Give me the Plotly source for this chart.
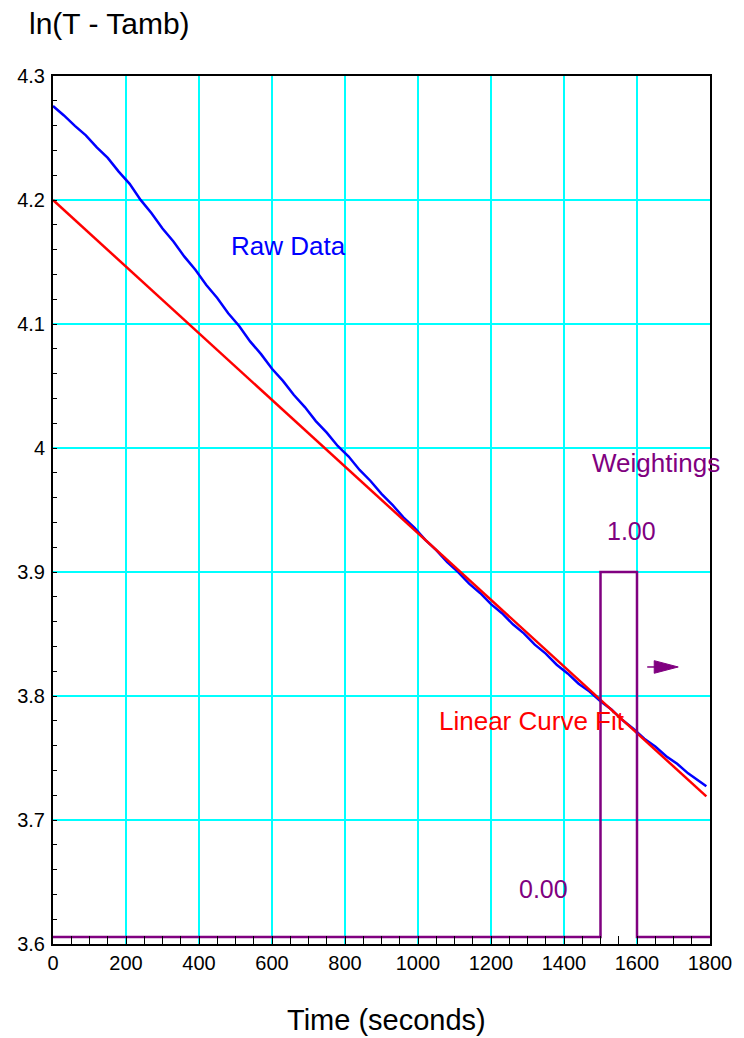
import plotly.graph_objects as go

# ---- data ----
time_s = [0, 30, 60, 90, 120, 150, 180, 210, 240, 270, 300, 330, 360, 390, 420,
          450, 480, 510, 540, 570, 600, 630, 660, 690, 720, 750, 780, 810, 840,
          870, 900, 930, 960, 990, 1020, 1050, 1080, 1110, 1140, 1170, 1200,
          1230, 1260, 1290, 1320, 1350, 1380, 1410, 1440, 1470, 1500, 1530,
          1560, 1590, 1620, 1650, 1680, 1710, 1740, 1770, 1790]
raw_ln = [4.2758, 4.2682, 4.2598, 4.2521, 4.2424, 4.2339, 4.2229, 4.2130,
          4.2001, 4.1893, 4.1770, 4.1665, 4.1543, 4.1437, 4.1314, 4.1210,
          4.1086, 4.0984, 4.0860, 4.0757, 4.0639, 4.0541, 4.0427, 4.0330,
          4.0217, 4.0124, 4.0016, 3.9931, 3.9823, 3.9734, 3.9630, 3.9542,
          3.9440, 3.9358, 3.9259, 3.9177, 3.9079, 3.8999, 3.8906, 3.8831,
          3.8741, 3.8668, 3.8578, 3.8505, 3.8414, 3.8342, 3.8252, 3.8182,
          3.8099, 3.8036, 3.7958, 3.7891, 3.7806, 3.7736, 3.7655, 3.7593,
          3.7514, 3.7453, 3.7376, 3.7316, 3.7272]
fit_t = [0, 1790]
fit_ln = [4.2, 3.719]
weight_t = [0, 1500, 1500, 1600, 1600, 1800]
weight_w = [0, 0, 1, 1, 0, 0]
x_ticks = [0, 200, 400, 600, 800, 1000, 1200, 1400, 1600, 1800]
x_tick_text = ["0", "200", "400", "600", "800", "1000", "1200", "1400", "1600", "1800"]
y_ticks = [3.6, 3.7, 3.8, 3.9, 4.0, 4.1, 4.2, 4.3]
y_tick_text = ["3.6", "3.7", "3.8", "3.9", "4", "4.1", "4.2", "4.3"]

FONT = "Liberation Sans, Arial, Helvetica, sans-serif"
BLUE = "#0000FF"
RED = "#FF0000"
PURPLE = "#800080"
CYAN = "#00FFFF"

fig = go.Figure()
fig.add_trace(go.Scatter(x=time_s, y=raw_ln, mode="lines",
                         line=dict(color=BLUE, width=2.5), showlegend=False))
fig.add_trace(go.Scatter(x=fit_t, y=fit_ln, mode="lines",
                         line=dict(color=RED, width=2.5), showlegend=False))
fig.add_trace(go.Scatter(x=weight_t, y=weight_w, mode="lines", yaxis="y2",
                         line=dict(color=PURPLE, width=2.5), showlegend=False))

fig.update_layout(
    width=744, height=1038,
    margin=dict(l=53, r=31, t=76, b=94),
    paper_bgcolor="white", plot_bgcolor="white",
    font=dict(family=FONT, color="black", size=20),
    xaxis=dict(range=[0, 1800], tickvals=x_ticks, ticktext=x_tick_text,
               showgrid=True, gridcolor=CYAN, gridwidth=1.5,
               showline=True, linecolor="black", linewidth=2, mirror=True,
               ticks="inside", ticklen=8, tickcolor="black", tickwidth=1,
               minor=dict(ticks="inside", dtick=50, ticklen=8, tickcolor="black",
                          tickwidth=1, showgrid=False),
               tickfont=dict(size=20), zeroline=False),
    yaxis=dict(range=[3.6, 4.3], tickvals=y_ticks, ticktext=y_tick_text,
               showgrid=True, gridcolor=CYAN, gridwidth=1.5,
               showline=True, linecolor="black", linewidth=2, mirror=True,
               ticks="inside", ticklen=4, tickcolor="black", tickwidth=1,
               minor=dict(ticks="inside", dtick=0.02, ticklen=4, tickcolor="black",
                          tickwidth=1, showgrid=False),
               tickfont=dict(size=20), zeroline=False, ticklabelstandoff=2),
    yaxis2=dict(range=[-0.019, 2.3586], overlaying="y", visible=False,
                showgrid=False),
)

annots = [
    dict(text="Raw Data", x=645.6, y=4.1629, color=BLUE, size=26),
    dict(text="Linear Curve Fit", x=1311, y=3.7798, color=RED, size=26),
    dict(text="Weightings", x=1651, y=3.9879, color=PURPLE, size=26),
    dict(text="1.00", x=1585.5, y=3.9331, color=PURPLE, size=25),
    dict(text="0.00", x=1345, y=3.6444, color=PURPLE, size=25),
]
for a in annots:
    fig.add_annotation(x=a["x"], y=a["y"], xref="x", yref="y", text=a["text"],
                       showarrow=False, xanchor="center", yanchor="middle",
                       font=dict(color=a["color"], size=a["size"], family=FONT))

# axis titles
fig.add_annotation(text="ln(T - Tamb)", xref="paper", yref="paper",
                   x=-26 / 660, y=1 + 52 / 868, xanchor="left", yanchor="middle",
                   showarrow=False, font=dict(size=30, family=FONT, color="black"))
fig.add_annotation(text="Time (seconds)", xref="paper", yref="paper",
                   x=0.508, y=-(1038 - 944) / 868, xanchor="center", yanchor="bottom",
                   showarrow=False, font=dict(size=29, family=FONT, color="black"))

# direction arrow beside weighting window
fig.add_shape(type="line", xref="x", yref="y", xsizemode="pixel", ysizemode="pixel",
              xanchor=1628, yanchor=3.8234, x0=0, x1=8, y0=0, y1=0,
              line=dict(color=PURPLE, width=1.5))
fig.add_shape(type="path", xref="x", yref="y", xsizemode="pixel", ysizemode="pixel",
              xanchor=1628, yanchor=3.8234, path="M7,-6.3 L31,0 L7,6.3 Z",
              fillcolor=PURPLE, line=dict(color=PURPLE, width=1))

fig.write_html("out.html")
